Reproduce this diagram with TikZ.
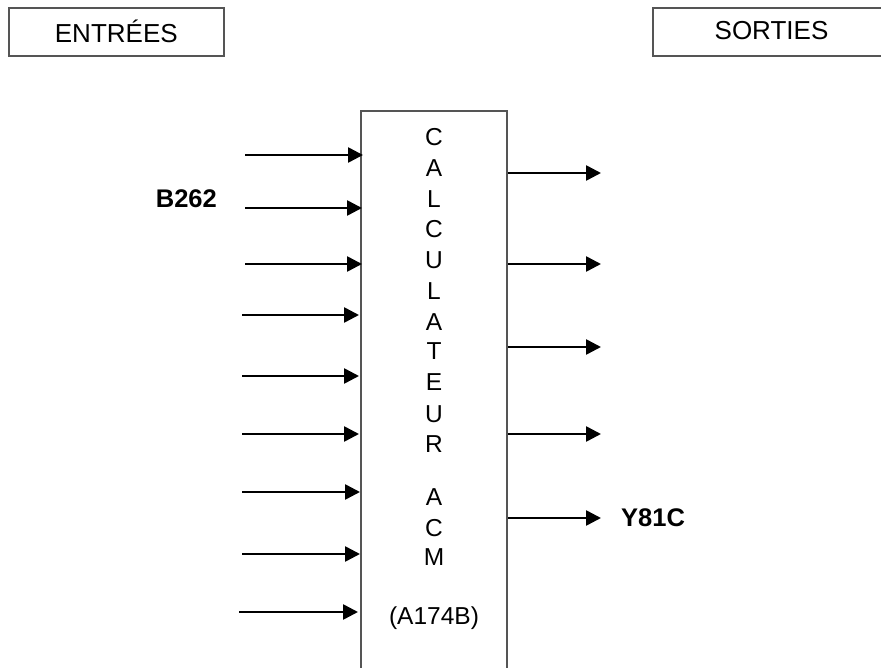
\documentclass[tikz,border=0pt]{standalone}
\usepackage{fontspec}
\setmainfont{Liberation Sans}
\usetikzlibrary{arrows.meta}
\definecolor{boxgray}{HTML}{555555}
\begin{document}
\begin{tikzpicture}[x=1pt,y=-1pt,
  titlebox/.style={draw=boxgray,line width=1.6pt,inner sep=0pt,font=\fontsize{26}{30}\selectfont},
  calcbox/.style={draw=boxgray,line width=2pt,inner sep=0pt,minimum width=146pt,minimum height=600pt,anchor=north},
  letter/.style={inner sep=0pt,font=\fontsize{24.5}{28}\selectfont},
  sig/.style={line width=2.6pt,-{Triangle[length=15pt,width=15pt]}},
  lbl/.style={inner sep=0pt,font=\bfseries\fontsize{25.5}{30}\selectfont}]
\useasboundingbox (0,0) rectangle (881,668);
\clip (0,0) rectangle (881,668);
\fill[white] (0,0) rectangle (881,668);
% title boxes
\node[titlebox,minimum width=215pt,minimum height=48pt,anchor=north west] (ent) at (8,7) {ENTRÉES};
\node[titlebox,minimum width=240pt,minimum height=48pt,anchor=north west] (sor) at (652,7) {};
\node[inner sep=0pt,font=\fontsize{26}{30}\selectfont] (sortxt) at (771.5,31) {SORTIES};
% calculator box
\node[calcbox] (calc) at (434,110) {};
\foreach \t/\y [count=\i] in {C/137.5,A/168.5,L/199.5,C/229,U/260,L/291,A/322,T/351,E/382,U/414,R/444,A/497,C/528,M/557,(A174B)/618}
  \node[letter] (l\i) at (434,\y) {\t};
% inputs
\foreach \y/\xs/\xe [count=\i] in {155/245/363,208/245/362,264/245/362,315/242/359,376/242/359,434/242/359,492/242/360,554/242/360,612/239/358}{
  \coordinate (in\i) at (\xs,\y);
  \coordinate (inend\i) at (\xe,\y);
  \draw[sig] (in\i) -- (inend\i);
}
% outputs
\foreach \y [count=\i] in {173,264,347,434,518}{
  \coordinate (out\i) at (601,\y);
  \draw[sig] (calc.east |- out\i) -- (out\i);
}
\node[lbl,anchor=east] (b262) at (217,199) {B262};
\node[lbl,anchor=west] (y81c) at (621,518) {Y81C};
\end{tikzpicture}
\end{document}
